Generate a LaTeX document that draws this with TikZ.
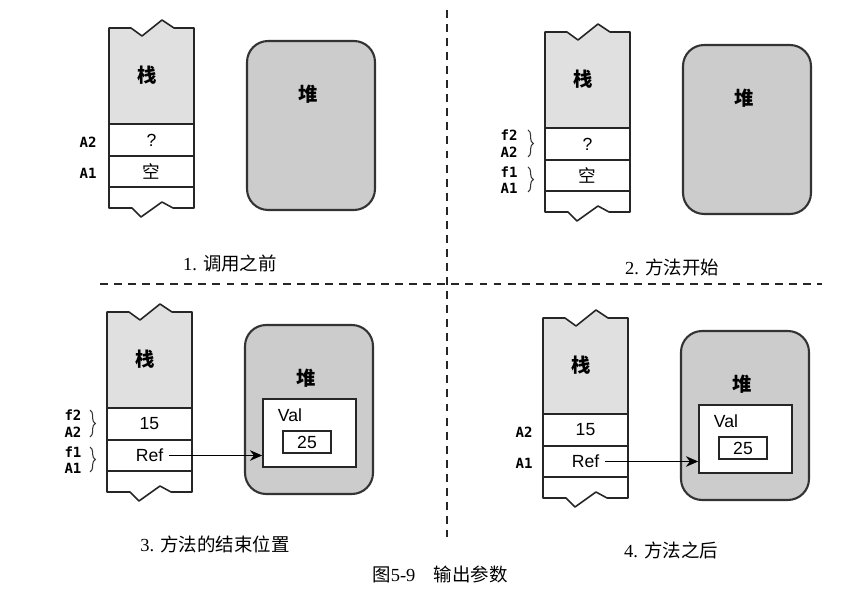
\documentclass[tikz,border=0pt]{standalone}
\usepackage{fontspec}
\setmainfont{Liberation Serif}
\setsansfont{Liberation Sans}
\setmonofont{DejaVu Sans Mono}
\newfontfamily\cjk{Noto Sans CJK SC}
\usepackage{tikz}
\usetikzlibrary{positioning,arrows.meta,decorations.pathreplacing}
\tikzset{
  stk/.style={draw=black!85, line width=0.9pt, line join=round},
  stkfill/.style={fill=black!12},
  heap/.style={draw=black!80, fill=black!20, line width=1.2pt, rounded corners=12pt, minimum width=2.56cm, minimum height=3.38cm},
  obj/.style={draw=black!85, fill=white, line width=0.9pt},
  cell/.style={font=\sffamily\fontsize{10}{11}\selectfont, inner sep=1pt},
  reg/.style={font=\ttfamily\bfseries\fontsize{8}{9}\selectfont, inner sep=0.5pt},
  big/.style={font=\cjk\bfseries\fontsize{11}{13}\selectfont},
  captxt/.style={font=\fontsize{10.5}{12}\selectfont},
  ptr/.style={draw=black, line width=1pt, -{Stealth[length=7pt,width=6pt]}},
  sep/.style={draw=black!85, line width=1.1pt, dash pattern=on 4.5pt off 3.5pt},
  brc/.style={draw=black!80, decorate, decoration={brace, amplitude=3pt}, line width=0.6pt}
}

\begin{document}
\begin{tikzpicture}[x=0.02cm, y=-0.02cm]
  \useasboundingbox (0,0) rectangle (852,590);

  % 1. before the call
  \begin{scope}[shift={(109,28)}]
    \fill[stkfill] (0,0) -- (22,0) -- (33,8) -- (53,-8) -- (65,0) -- (85,0) -- (85,96) -- (0,96) -- cycle;
    \draw[stk] (0,0) -- (22,0) -- (33,8) -- (53,-8) -- (65,0) -- (85,0) -- (85,180) -- (64,180) -- (53,174) -- (32,189) -- (23,180) -- (0,180) -- cycle;
    \draw[stk] (0,96) -- (85,96) (0,128) -- (85,128) (0,159) -- (85,159);
    \node[big] (stA) at (38,47) {栈};
    \node[cell] (vA2) at (42.5,112) {?};
    \node[cell, font=\cjk\fontsize{10}{11}\selectfont] (vA1) at (42.5,143.5) {空};
    \node[reg] (rA2) at (-21,114) {A2};
    \node[reg] (rA1) at (-21,145) {A1};
    \node[heap] (heapA) at (202,97.5) {};
    \node[big] (hpA) at (199,66) {堆};
  \end{scope}

  % 2. method starts
  \begin{scope}[shift={(545,32)}]
    \fill[stkfill] (0,0) -- (22,0) -- (33,8) -- (53,-8) -- (65,0) -- (85,0) -- (85,96) -- (0,96) -- cycle;
    \draw[stk] (0,0) -- (22,0) -- (33,8) -- (53,-8) -- (65,0) -- (85,0) -- (85,180) -- (64,180) -- (53,174) -- (32,189) -- (23,180) -- (0,180) -- cycle;
    \draw[stk] (0,96) -- (85,96) (0,128) -- (85,128) (0,159) -- (85,159);
    \node[big] (stB) at (38,47) {栈};
    \node[cell] (vB2) at (42.5,112) {?};
    \node[cell, font=\cjk\fontsize{10}{11}\selectfont] (vB1) at (42.5,143.5) {空};
    \node[reg] (fB2) at (-36,103) {f2};
    \node[reg] (rB2) at (-36,120) {A2};
    \node[reg] (fB1) at (-36,140) {f1};
    \node[reg] (rB1) at (-36,156) {A1};
    \coordinate (bB2t) at (-17,98);  \coordinate (bB2b) at (-17,125);
    \coordinate (bB1t) at (-17,135); \coordinate (bB1b) at (-17,160);
    \draw[brc] (bB2t) -- (bB2b);
    \draw[brc] (bB1t) -- (bB1b);
    \node[heap] (heapB) at (202,97.5) {};
    \node[big] (hpB) at (199,66) {堆};
  \end{scope}

  % 3. end of the method
  \begin{scope}[shift={(107,312)}]
    \fill[stkfill] (0,0) -- (22,0) -- (33,8) -- (53,-8) -- (65,0) -- (85,0) -- (85,96) -- (0,96) -- cycle;
    \draw[stk] (0,0) -- (22,0) -- (33,8) -- (53,-8) -- (65,0) -- (85,0) -- (85,180) -- (64,180) -- (53,174) -- (32,189) -- (23,180) -- (0,180) -- cycle;
    \draw[stk] (0,96) -- (85,96) (0,128) -- (85,128) (0,159) -- (85,159);
    \node[big] (stC) at (38,47) {栈};
    \node[cell] (vC2) at (42.5,112) {15};
    \node[cell] (refC) at (42.5,143.5) {Ref};
    \node[reg] (fC2) at (-34,103) {f2};
    \node[reg] (rC2) at (-34,120) {A2};
    \node[reg] (fC1) at (-34,140) {f1};
    \node[reg] (rC1) at (-34,156) {A1};
    \coordinate (bC2t) at (-17,98);  \coordinate (bC2b) at (-17,125);
    \coordinate (bC1t) at (-17,135); \coordinate (bC1b) at (-17,160);
    \draw[brc] (bC2t) -- (bC2b);
    \draw[brc] (bC1t) -- (bC1b);
    \node[heap] (heapC) at (202,97.5) {};
    \node[big] (hpC) at (199,66) {堆};
    \node[obj, minimum width=1.86cm, minimum height=1.36cm] (valC) at (202.5,121) {};
    \node[cell] (vlC) at (183,103) {Val};
    \node[obj, cell, minimum width=0.96cm, minimum height=0.44cm] (numC) at (200,130) {25};
    \draw[ptr] ([xshift=2pt]refC.east) -- (refC.east -| valC.west);
  \end{scope}

  % 4. after the method
  \begin{scope}[shift={(543,318)}]
    \fill[stkfill] (0,0) -- (22,0) -- (33,8) -- (53,-8) -- (65,0) -- (85,0) -- (85,96) -- (0,96) -- cycle;
    \draw[stk] (0,0) -- (22,0) -- (33,8) -- (53,-8) -- (65,0) -- (85,0) -- (85,180) -- (64,180) -- (53,174) -- (32,189) -- (23,180) -- (0,180) -- cycle;
    \draw[stk] (0,96) -- (85,96) (0,128) -- (85,128) (0,159) -- (85,159);
    \node[big] (stD) at (38,47) {栈};
    \node[cell] (vD2) at (42.5,112) {15};
    \node[cell] (refD) at (42.5,143.5) {Ref};
    \node[reg] (rD2) at (-19,114) {A2};
    \node[reg] (rD1) at (-19,145) {A1};
    \node[heap] (heapD) at (202,97.5) {};
    \node[big] (hpD) at (199,66) {堆};
    \node[obj, minimum width=1.86cm, minimum height=1.36cm] (valD) at (202.5,121) {};
    \node[cell] (vlD) at (183,103) {Val};
    \node[obj, cell, minimum width=0.96cm, minimum height=0.44cm] (numD) at (200,130) {25};
    \draw[ptr] ([xshift=2pt]refD.east) -- (refD.east -| valD.west);
  \end{scope}

  % separators
  \draw[sep] (447,10) -- (447,537);
  \draw[sep] (100,284) -- (822,284);

  % captions
  \node[captxt] (capA) at (230,263) {1. {\cjk 调用之前}};
  \node[captxt] (capB) at (672,267) {2. {\cjk 方法开始}};
  \node[captxt] (capC) at (215,544) {3. {\cjk 方法的结束位置}};
  \node[captxt] (capD) at (671,550) {4. {\cjk 方法之后}};
  \node[captxt] (fig) at (440,574) {{\cjk 图}5-9\quad{\cjk 输出参数}};
\end{tikzpicture}
\end{document}
